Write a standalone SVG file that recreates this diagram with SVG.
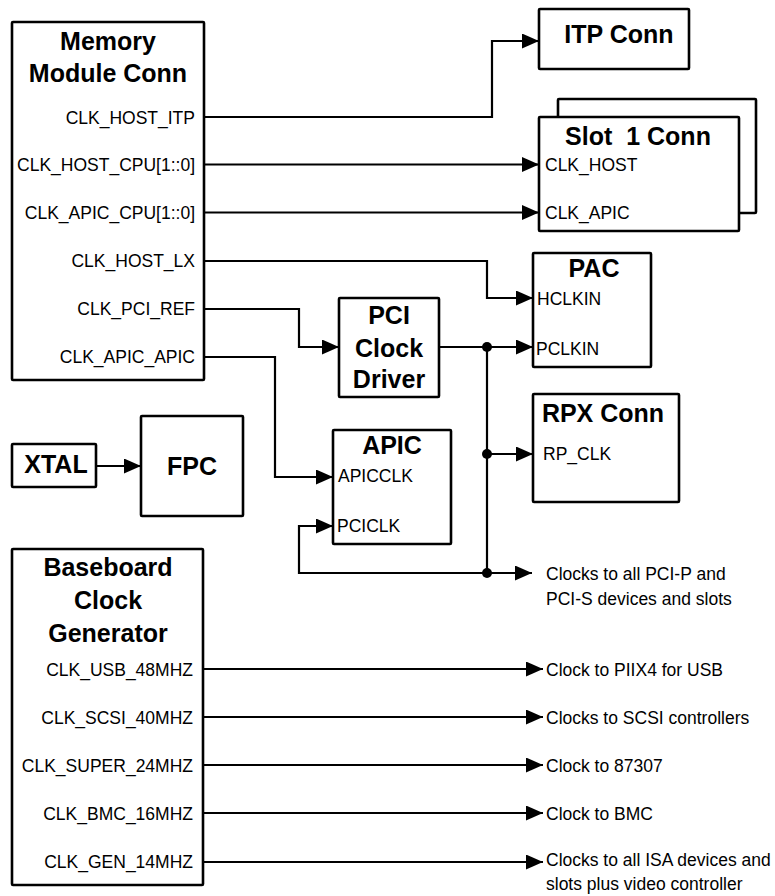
<svg xmlns="http://www.w3.org/2000/svg" width="775" height="896" viewBox="0 0 775 896">
<defs>
<marker id="arr" markerUnits="userSpaceOnUse" markerWidth="18" markerHeight="16" refX="17" refY="7.5" orient="auto">
<path d="M0,0 L17,7.5 L0,15 z" fill="#000"/>
</marker>
<style>
.box{fill:#fff;stroke:#000;stroke-width:2.6}
.t{font-family:"Liberation Sans",Arial,sans-serif;font-weight:bold;font-size:25px;text-anchor:middle;fill:#000}
.s{font-family:"Liberation Sans",Arial,sans-serif;font-size:17.5px;fill:#000}
.r{text-anchor:end}
.ln{fill:none;stroke:#000;stroke-width:2.2}
.a{marker-end:url(#arr)}
</style>
</defs>
<rect width="775" height="896" fill="#fff"/>

<g id="memory-module-conn">
<rect class="box" x="12" y="22" width="192" height="358" rx="1"/>
<text class="t" x="108" y="50">Memory</text>
<text class="t" x="108" y="82">Module Conn</text>
<text class="s r" x="195" y="124">CLK_HOST_ITP</text>
<text class="s r" x="195" y="171">CLK_HOST_CPU[1::0]</text>
<text class="s r" x="195" y="219">CLK_APIC_CPU[1::0]</text>
<text class="s r" x="195" y="267">CLK_HOST_LX</text>
<text class="s r" x="195" y="315">CLK_PCI_REF</text>
<text class="s r" x="195" y="363">CLK_APIC_APIC</text>
</g>

<g id="itp-conn">
<rect class="box" x="539" y="9" width="150" height="60" rx="1"/>
<text class="t" x="619" y="43">ITP Conn</text>
</g>

<g id="slot1-conn">
<rect class="box" x="558" y="99" width="198" height="114" rx="1"/>
<rect class="box" x="539" y="117" width="200" height="114" rx="1"/>
<text class="t" x="638" y="145" style="white-space:pre">Slot  1 Conn</text>
<text class="s" x="545" y="171">CLK_HOST</text>
<text class="s" x="545" y="219">CLK_APIC</text>
</g>

<g id="pac">
<rect class="box" x="533" y="253" width="118" height="114" rx="1"/>
<text class="t" x="594" y="277">PAC</text>
<text class="s" x="537" y="305">HCLKIN</text>
<text class="s" x="536" y="355">PCLKIN</text>
</g>

<g id="pci-clock-driver">
<rect class="box" x="339" y="298" width="100" height="99" rx="1"/>
<text class="t" x="389" y="324">PCI</text>
<text class="t" x="389" y="357">Clock</text>
<text class="t" x="389" y="388">Driver</text>
</g>

<g id="rpx-conn">
<rect class="box" x="533" y="394" width="146" height="108" rx="1"/>
<text class="t" x="603" y="422">RPX Conn</text>
<text class="s" x="543" y="460">RP_CLK</text>
</g>

<g id="apic">
<rect class="box" x="333" y="430" width="118" height="114" rx="1"/>
<text class="t" x="392" y="454">APIC</text>
<text class="s" x="338" y="482">APICCLK</text>
<text class="s" x="337" y="532">PCICLK</text>
</g>

<g id="xtal">
<rect class="box" x="12" y="444" width="84" height="43" rx="1"/>
<text class="t" x="56" y="473">XTAL</text>
</g>

<g id="fpc">
<rect class="box" x="141" y="416" width="102" height="100" rx="1"/>
<text class="t" x="192" y="475">FPC</text>
</g>

<g id="baseboard-clock-generator">
<rect class="box" x="12" y="549" width="191" height="336" rx="1"/>
<text class="t" x="108" y="576">Baseboard</text>
<text class="t" x="108" y="609">Clock</text>
<text class="t" x="108" y="642">Generator</text>
<text class="s r" x="193" y="676">CLK_USB_48MHZ</text>
<text class="s r" x="193" y="724">CLK_SCSI_40MHZ</text>
<text class="s r" x="193" y="772">CLK_SUPER_24MHZ</text>
<text class="s r" x="193" y="820">CLK_BMC_16MHZ</text>
<text class="s r" x="193" y="868">CLK_GEN_14MHZ</text>
</g>

<g id="outputs">
<text class="s" x="546" y="580">Clocks to all PCI-P and</text>
<text class="s" x="546" y="605">PCI-S devices and slots</text>
<text class="s" x="546" y="676">Clock to PIIX4 for USB</text>
<text class="s" x="546" y="724">Clocks to SCSI controllers</text>
<text class="s" x="546" y="772">Clock to 87307</text>
<text class="s" x="546" y="820">Clock to BMC</text>
<text class="s" x="546" y="866">Clocks to all ISA devices and</text>
<text class="s" x="546" y="890">slots plus video controller</text>
</g>

<g id="connectors">
<path class="ln a" d="M204,117 H492 V41 H539"/>
<path class="ln a" d="M204,164.5 H539"/>
<path class="ln a" d="M204,212.5 H539"/>
<path class="ln a" d="M204,261 H487 V298 H533"/>
<path class="ln a" d="M204,309 H299 V347 H339"/>
<path class="ln a" d="M204,357 H275 V477 H333"/>
<path class="ln a" d="M439,347 H533"/>
<path class="ln" d="M487,347 V573"/>
<path class="ln a" d="M487,454 H533"/>
<path class="ln a" d="M487,573 H299 V526 H333"/>
<path class="ln a" d="M487,573 H532"/>
<path class="ln a" d="M96,466 H141"/>
<path class="ln a" d="M203,669 H543"/>
<path class="ln a" d="M203,717 H543"/>
<path class="ln a" d="M203,765 H543"/>
<path class="ln a" d="M203,813 H543"/>
<path class="ln a" d="M203,862 H543"/>
<circle cx="487" cy="347" r="5"/>
<circle cx="487" cy="454" r="5"/>
<circle cx="487" cy="573" r="5"/>
</g>
</svg>
